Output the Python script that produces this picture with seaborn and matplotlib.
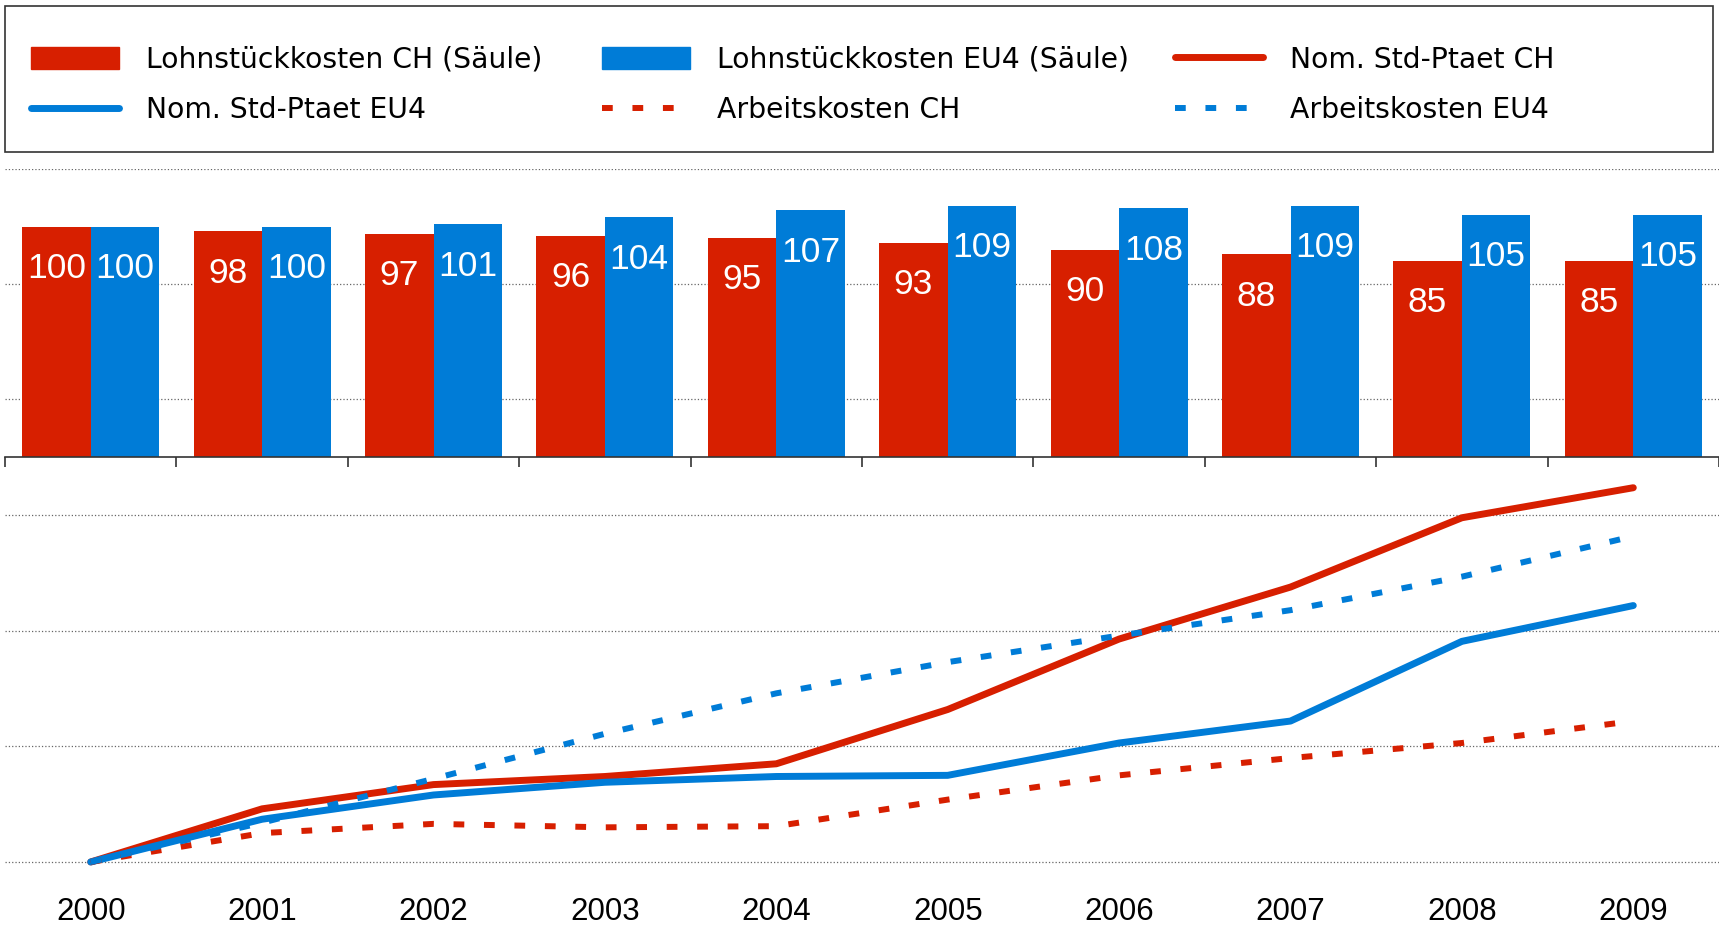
import numpy as np
import pandas as pd
import matplotlib
matplotlib.use("Agg")
import matplotlib.pyplot as plt
from matplotlib.patches import Patch, Rectangle
from matplotlib.lines import Line2D
import seaborn as sns

# Werte (Index 2000 = 100)
years = ['2000', '2001', '2002', '2003', '2004', '2005', '2006', '2007', '2008', '2009']
lohn_ch = [100, 98, 97, 96, 95, 93, 90, 88, 85, 85]
lohn_eu4 = [100, 100, 101, 104, 107, 109, 108, 109, 105, 105]
nom_ch = [100, 104.6, 106.7, 107.4, 108.5, 113.2, 119.3, 123.8, 129.8, 132.4]
nom_eu4 = [100, 103.7, 105.8, 106.9, 107.4, 107.5, 110.3, 112.2, 119.1, 122.2]
arb_ch = [100, 102.5, 103.3, 103.0, 103.1, 105.4, 107.5, 109.0, 110.3, 112.2]
arb_eu4 = [100, 103.4, 107.2, 111.1, 114.6, 117.3, 119.6, 121.8, 124.7, 128.2]

red = '#D71F00'
blue = '#007CD7'
dots = (0, (1.8, 3.3))

sns.set_style('white')
plt.rcParams['font.family'] = ['DejaVu Sans']
plt.rcParams['text.color'] = 'black'
plt.rcParams['xtick.color'] = 'black'

W, H = 1719, 926
fig = plt.figure(figsize=(W / 100, H / 100), dpi=100)
ax_bar = fig.add_axes([5 / W, 1 - 457 / H, 1 - 5 / W, (457 - 169) / H])
ax_line = fig.add_axes([5 / W, 1 - 880 / H, 1 - 5 / W, (880 - 457) / H])
ax_line.patch.set_visible(False)

# Säulen
bars = pd.DataFrame({'Jahr': years * 2,
                     'Serie': ['CH'] * len(years) + ['EU4'] * len(years),
                     'Wert': lohn_ch + lohn_eu4})
sns.barplot(data=bars, x='Jahr', y='Wert', hue='Serie', palette={'CH': red, 'EU4': blue},
            width=0.8, saturation=1, legend=False, linewidth=0, ax=ax_bar, zorder=2)
for c in ax_bar.containers:
    ax_bar.bar_label(c, fmt='%d', padding=-42, color='white', fontsize=25.5,
                     family='Liberation Sans')

ax_bar.set_ylim(0, 125)
ax_bar.set_yticks([25, 75, 125])
ax_bar.yaxis.grid(True, linestyle=':', color='#666666', lw=0.9)
ax_bar.set_axisbelow(True)
ax_bar.set_xlim(-0.5, 9.5)
ax_bar.set_xticks(np.arange(-0.5, 10, 1))
ax_bar.tick_params(axis='x', direction='out', length=7, width=1.2, color='#333333',
                   labelbottom=False, bottom=True)
ax_bar.tick_params(axis='y', left=False, labelleft=False)
ax_bar.set_xlabel('')
ax_bar.set_ylabel('')
sns.despine(ax=ax_bar, left=True)
ax_bar.spines['bottom'].set_color('#333333')
ax_bar.spines['bottom'].set_linewidth(1.2)

# Linien
x = np.arange(len(years))
sns.lineplot(x=x, y=nom_ch, color=red, linewidth=5, ax=ax_line)
sns.lineplot(x=x, y=nom_eu4, color=blue, linewidth=5, ax=ax_line)
sns.lineplot(x=x, y=arb_ch, color=red, linewidth=4.3, linestyle=dots, ax=ax_line)
sns.lineplot(x=x, y=arb_eu4, color=blue, linewidth=4.3, linestyle=dots, ax=ax_line)

ax_line.set_xlim(-0.5, 9.5)
ax_line.set_ylim(98.44, 135.06)
ax_line.set_yticks([100, 110, 120, 130])
ax_line.yaxis.grid(True, linestyle=':', color='#666666', lw=0.9)
ax_line.set_axisbelow(True)
ax_line.set_xticks(x)
ax_line.set_xticklabels(years, fontsize=22.5, family='Liberation Sans', color='black')
ax_line.tick_params(axis='x', length=0, pad=12.6)
ax_line.tick_params(axis='y', left=False, labelleft=False)
for s in ax_line.spines.values():
    s.set_visible(False)

# Legende: drei Spalten an festen Positionen
columns = [
    ([Patch(color=red), Line2D([], [], color=blue, lw=5)],
     ['Lohnstückkosten CH (Säule)', 'Nom. Std-Ptaet EU4'], 31),
    ([Patch(color=blue), Line2D([], [], color=red, lw=4.3, linestyle=dots)],
     ['Lohnstückkosten EU4 (Säule)', 'Arbeitskosten CH'], 602),
    ([Line2D([], [], color=red, lw=5), Line2D([], [], color=blue, lw=4.3, linestyle=dots)],
     ['Nom. Std-Ptaet CH', 'Arbeitskosten EU4'], 1175),
]
for hs, ls, x0 in columns:
    fig.legend(hs, ls, ncol=1, frameon=False, loc='center left',
               bbox_to_anchor=(x0 / W, 1 - 85 / H), borderpad=0, borderaxespad=0,
               fontsize=20.3, handlelength=3.12, handleheight=0.8, handletextpad=0.97,
               labelspacing=0.8)
fig.patches.append(Rectangle((5 / W, 1 - 152 / H), (1713 - 5) / W, 146 / H,
                             transform=fig.transFigure, fill=False,
                             ec='#333333', lw=1.2))

fig.savefig('out.png', dpi=100)
